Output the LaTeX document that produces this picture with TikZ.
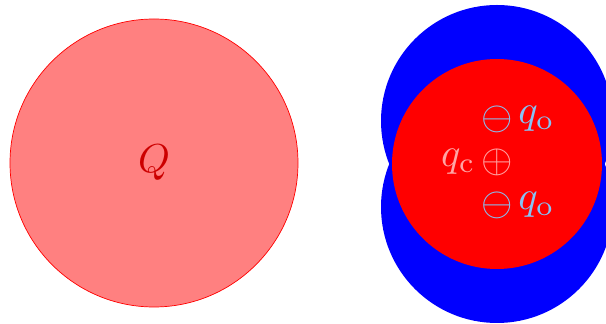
\documentclass[tikz,border=0pt]{standalone}
\usepackage{amsmath}
\usetikzlibrary{positioning}
\definecolor{chBlue}{RGB}{135,195,245}
\definecolor{chPink}{RGB}{255,165,165}
\tikzset{
  shell/.style   = {blue, draw=none},
  core/.style    = {red, draw=none},
  cloud/.style   = {fill=red!50, draw=red, line width=0.4pt},
  lbl/.style     = {scale=2.3, inner sep=0.5pt},
  qout/.style    = {lbl, chBlue},
  qin/.style     = {lbl, chPink},
}
\begin{document}
\begin{tikzpicture}[x=0.02cm, y=-0.02cm]
  \useasboundingbox (0,0) rectangle (606,324);

  % total charge
  \fill[cloud] (154,163) circle (144);
  \node[lbl, red!80!black] (Q) at (154,163) {$Q$};

  % two outer charges round a central one
  \fill[shell] (497,121) circle (116);
  \fill[shell] (497,207) circle (116);
  \fill[core] (497,164) circle (105);

  \node[qout] (mt) at (497,119) {$\ominus$};
  \node[qin]  (pc) at (497,162) {$\oplus$};
  \node[qout] (mb) at (497,205) {$\ominus$};
  \node[qout, right=0pt of mt] (qt) {$q_\text{o}$};
  \node[qin,  left=0pt of pc]  (qc) {$q_\text{c}$};
  \node[qout, right=0pt of mb] (qb) {$q_\text{o}$};
\end{tikzpicture}
\end{document}
